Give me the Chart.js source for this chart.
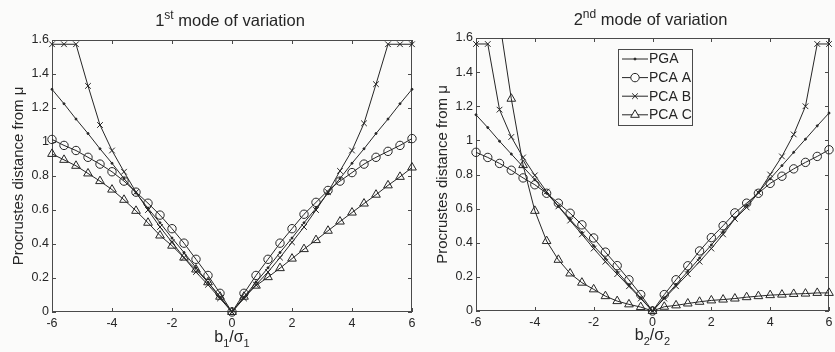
<!DOCTYPE html>
<html>
<head>
<meta charset="utf-8">
<script src="https://cdn.jsdelivr.net/npm/chart.js@4/dist/chart.umd.min.js"></script>
<style>
  html, body { margin: 0; padding: 0; background: #fbfbfa; }
  #wrap  { position: relative; width: 835px; height: 352px; overflow: hidden; }
  .pane  { position: absolute; top: 0; height: 352px; }
  #pane1 { left: 0; width: 420px; }
  #pane2 { left: 420px; width: 415px; }
</style>
</head>
<body>
<div id="wrap">
  <div class="pane" id="pane1"><canvas id="chart1" width="420" height="352"></canvas></div>
  <div class="pane" id="pane2"><canvas id="chart2" width="415" height="352"></canvas></div>
</div>
<script>
/* ── Data ── */
const bValues = [-6, -5.6, -5.2, -4.8, -4.4, -4, -3.6, -3.2, -2.8, -2.4, -2, -1.6, -1.2, -0.8, -0.4,
                 0, 0.4, 0.8, 1.2, 1.6, 2, 2.4, 2.8, 3.2, 3.6, 4, 4.4, 4.8, 5.2, 5.6, 6];

const xTickValues = [-6, -4, -2, 0, 2, 4, 6];
const xTickLabels = ['-6', '-4', '-2', '0', '2', '4', '6'];
const yTickValues = [0, 0.2, 0.4, 0.6, 0.8, 1, 1.2, 1.4, 1.6];
const yTickLabels = ['0', '0.2', '0.4', '0.6', '0.8', '1', '1.2', '1.4', '1.6'];

const seriesNames = ['PGA', 'PCA A', 'PCA B', 'PCA C'];

// 1st mode of variation
const mode1Pga  = [1.31, 1.225, 1.135, 1.05, 0.96, 0.875, 0.785, 0.7, 0.61, 0.525, 0.435, 0.35, 0.26, 0.175, 0.087,
                   0, 0.087, 0.175, 0.26, 0.35, 0.435, 0.525, 0.61, 0.7, 0.785, 0.875, 0.96, 1.05, 1.135, 1.225, 1.31];
const mode1PcaA = [1.015, 0.98, 0.95, 0.91, 0.87, 0.825, 0.77, 0.705, 0.64, 0.57, 0.49, 0.405, 0.31, 0.215, 0.11,
                   0, 0.11, 0.215, 0.31, 0.405, 0.49, 0.575, 0.645, 0.715, 0.77, 0.82, 0.87, 0.91, 0.945, 0.98, 1.02];
const mode1PcaB = [1.575, 1.575, 1.575, 1.33, 1.1, 0.95, 0.825, 0.705, 0.6, 0.5, 0.41, 0.32, 0.235, 0.16, 0.08,
                   0, 0.08, 0.16, 0.235, 0.32, 0.41, 0.5, 0.6, 0.705, 0.83, 0.95, 1.11, 1.34, 1.575, 1.575, 1.575];
const mode1PcaC = [0.93, 0.895, 0.86, 0.815, 0.77, 0.72, 0.66, 0.595, 0.525, 0.45, 0.39, 0.32, 0.25, 0.175, 0.09,
                   0, 0.09, 0.155, 0.205, 0.258, 0.314, 0.37, 0.423, 0.478, 0.532, 0.585, 0.638, 0.69, 0.745, 0.795, 0.85];

// 2nd mode of variation
const mode2Pga  = [1.15, 1.075, 0.995, 0.92, 0.845, 0.77, 0.69, 0.615, 0.537, 0.46, 0.383, 0.307, 0.23, 0.153, 0.077,
                   0, 0.077, 0.155, 0.232, 0.31, 0.387, 0.465, 0.542, 0.62, 0.697, 0.775, 0.852, 0.93, 1.007, 1.085, 1.16];
const mode2PcaA = [0.93, 0.9, 0.865, 0.825, 0.78, 0.74, 0.69, 0.632, 0.573, 0.505, 0.428, 0.345, 0.266, 0.183, 0.096,
                   0, 0.096, 0.183, 0.265, 0.352, 0.43, 0.5, 0.575, 0.632, 0.69, 0.748, 0.79, 0.833, 0.871, 0.906, 0.945];
const mode2PcaB = [1.565, 1.565, 1.18, 1.02, 0.9, 0.795, 0.7, 0.613, 0.53, 0.449, 0.366, 0.289, 0.216, 0.145, 0.073,
                   0, 0.073, 0.145, 0.216, 0.289, 0.366, 0.449, 0.54, 0.607, 0.694, 0.8, 0.906, 1.035, 1.2, 1.565, 1.565];
const mode2PcaC = [2.9, 2.2, 1.7, 1.244, 0.855, 0.587, 0.41, 0.3, 0.22, 0.166, 0.127, 0.087, 0.058, 0.039, 0.023,
                   0, 0.025, 0.033, 0.044, 0.054, 0.062, 0.067, 0.073, 0.081, 0.087, 0.093, 0.096, 0.1, 0.102, 0.106, 0.106];

/* ── Look ── */
const INK    = '#262626';
const FRAME  = '#4a4a4a';
const PAPER  = '#fbfbfa';
const FAMILY = '"Liberation Sans", Arial, Helvetica, sans-serif';
const TICK   = 4;

Chart.defaults.font.family = FAMILY;
Chart.defaults.color = INK;

const markers = [
  { pointStyle: 'circle',   radius: 1,   filled: true },
  { pointStyle: 'circle',   radius: 4.2 },
  { pointStyle: 'crossRot', radius: 4   },
  { pointStyle: 'triangle', radius: 5   },
];

function makeDatasets(seriesList) {
  return seriesList.map((vals, i) => ({
    label: seriesNames[i],
    data:  bValues.map((b, j) => ({ x: b, y: vals[j] })),
    borderColor: INK,
    borderWidth: 1,
    pointStyle:  markers[i].pointStyle,
    pointRadius: markers[i].radius,
    pointBorderColor: INK,
    pointBorderWidth: 1,
    pointBackgroundColor: markers[i].filled ? INK : 'rgba(0,0,0,0)',
    tension: 0,
    clip: { left: 8, right: 8, top: 0, bottom: 8 },
  }));
}

/* ── Text with sub/superscripts ── */
function drawRich(ctx, parts, cx, baseline, size) {
  const small = Math.round(size * 0.7);
  const fontOf = p => `${p.sup || p.sub ? small : size}px ${FAMILY}`;
  const widths = parts.map(p => { ctx.font = fontOf(p); return ctx.measureText(p.t).width; });
  let x = cx - widths.reduce((a, b) => a + b, 0) / 2;
  ctx.textAlign = 'left';
  ctx.textBaseline = 'alphabetic';
  parts.forEach((p, i) => {
    ctx.font = fontOf(p);
    const dy = p.sup ? -size * 0.42 : p.sub ? size * 0.3 : 0;
    ctx.fillText(p.t, x, baseline + dy);
    x += widths[i];
  });
}

/* ── Frame, inward ticks, title, x label, legend ── */
const decor = {
  id: 'decor',
  beforeDatasetsDraw(chart) {
    const { ctx, chartArea: a, scales: { x, y } } = chart;
    ctx.save();
    ctx.strokeStyle = FRAME;
    ctx.lineWidth = 1;
    ctx.strokeRect(a.left + 0.5, a.top + 0.5, a.right - a.left - 1, a.bottom - a.top - 1);
    ctx.beginPath();
    x.ticks.forEach(t => {
      const px = Math.round(x.getPixelForValue(t.value)) + 0.5;
      ctx.moveTo(px, a.bottom); ctx.lineTo(px, a.bottom - TICK);
      ctx.moveTo(px, a.top);    ctx.lineTo(px, a.top + TICK);
    });
    y.ticks.forEach(t => {
      const py = Math.round(y.getPixelForValue(t.value)) + 0.5;
      ctx.moveTo(a.left, py);  ctx.lineTo(a.left + TICK, py);
      ctx.moveTo(a.right, py); ctx.lineTo(a.right - TICK, py);
    });
    ctx.stroke();
    ctx.restore();
  },
  afterDraw(chart, args, opts) {
    const { ctx, chartArea: a } = chart;
    const cx = (a.left + a.right) / 2;
    ctx.save();
    ctx.fillStyle = INK;
    drawRich(ctx, opts.title, cx - 2, opts.titleY, 16.5);
    drawRich(ctx, opts.xLabel, cx, opts.xLabelY, 16);

    if (opts.legend) {
      const L = opts.legend;
      ctx.fillStyle = PAPER;
      ctx.fillRect(L.x, L.y, L.w, L.h);
      ctx.strokeStyle = FRAME;
      ctx.lineWidth = 1;
      ctx.strokeRect(L.x + 0.5, L.y + 0.5, L.w, L.h);
      chart.data.datasets.forEach((ds, i) => {
        const ry = L.y + L.rowTop + i * L.rowGap;
        ctx.strokeStyle = INK;
        ctx.beginPath();
        ctx.moveTo(L.x + 4, ry); ctx.lineTo(L.x + 30, ry);
        ctx.stroke();
        ctx.fillStyle = markers[i].filled ? INK : PAPER;
        ctx.lineWidth = 1;
        Chart.helpers.drawPoint(ctx, {
          pointStyle: ds.pointStyle, radius: ds.pointRadius, rotation: 0, borderWidth: 1,
        }, L.x + 17, ry);
        ctx.fillStyle = INK;
        ctx.font = `14px ${FAMILY}`;
        ctx.textAlign = 'left';
        ctx.textBaseline = 'middle';
        ctx.fillText(ds.label, L.x + 31, ry + 0.5);
      });
    }
    ctx.restore();
  },
};

function makeChart(canvasId, seriesList, area, decorOpts) {
  return new Chart(document.getElementById(canvasId), {
    type: 'line',
    data: { datasets: makeDatasets(seriesList) },
    options: {
      responsive: false,
      animation: false,
      events: [],
      layout: { padding: { top: area.top, right: area.right, bottom: 0, left: 0 } },
      plugins: {
        legend:  { display: false },
        tooltip: { enabled: false },
        decor:   decorOpts,
      },
      scales: {
        x: {
          type: 'linear', min: -6, max: 6,
          afterBuildTicks: s => { s.ticks = xTickValues.map(v => ({ value: v })); },
          afterFit: s => { s.height = area.xHeight; s.paddingLeft = 0; s.paddingRight = 0; },
          grid:   { display: false, drawTicks: false },
          border: { display: false },
          ticks:  { padding: 4, maxRotation: 0, autoSkip: false, color: INK,
                    font: { size: 12.5 }, callback: (v, i) => xTickLabels[i] },
        },
        y: {
          min: 0, max: 1.6,
          afterBuildTicks: s => { s.ticks = yTickValues.map(v => ({ value: v })); },
          afterFit: s => { s.width = area.yWidth; s.paddingTop = 0; s.paddingBottom = 0; },
          grid:   { display: false, drawTicks: false },
          border: { display: false },
          ticks:  { padding: 3, color: INK, font: { size: 12.5 }, callback: (v, i) => yTickLabels[i] },
          title:  { display: true, text: 'Procrustes distance from μ', color: INK,
                    font: { size: 15 }, padding: { top: area.yTitlePad, bottom: 0 } },
        },
      },
    },
    plugins: [decor],
  });
}

/* ── Charts ── */
makeChart('chart1', [mode1Pga, mode1PcaA, mode1PcaB, mode1PcaC],
  { top: 40, right: 8, xHeight: 40, yWidth: 52, yTitlePad: 10 },
  {
    title:  [{ t: '1' }, { t: 'st', sup: true }, { t: ' mode of variation' }],
    titleY: 26,
    xLabel: [{ t: 'b' }, { t: '1', sub: true }, { t: '/σ' }, { t: '1', sub: true }],
    xLabelY: 342,
  });

makeChart('chart2', [mode2Pga, mode2PcaA, mode2PcaB, mode2PcaC],
  { top: 38, right: 1, xHeight: 41, yWidth: 56, yTitlePad: 14 },
  {
    title:  [{ t: '2' }, { t: 'nd', sup: true }, { t: ' mode of variation' }],
    titleY: 25,
    xLabel: [{ t: 'b' }, { t: '2', sub: true }, { t: '/σ' }, { t: '2', sub: true }],
    xLabelY: 340,
    legend: { x: 198, y: 49, w: 74, h: 76, rowTop: 10, rowGap: 18.6 },
  });
</script>
</body>
</html>
